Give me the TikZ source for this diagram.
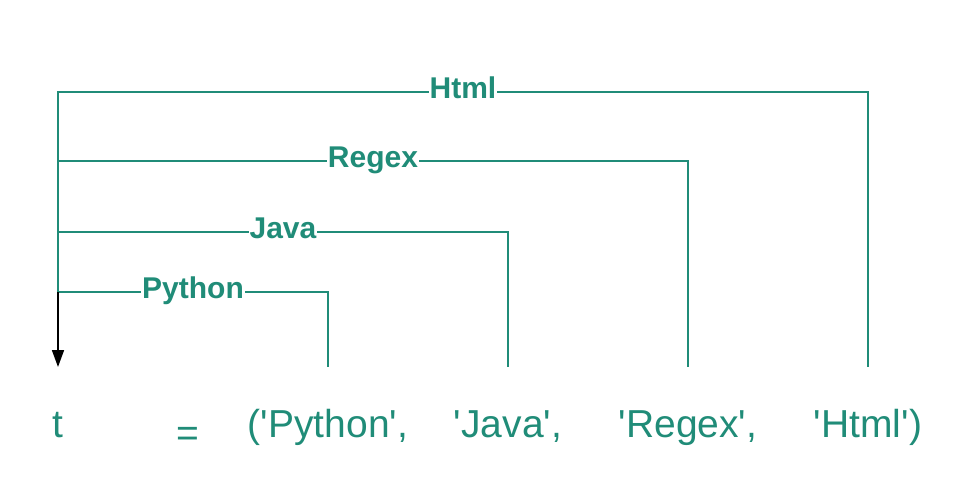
\documentclass[tikz,border=0pt]{standalone}
\usepackage{fontspec}
\setmainfont{Liberation Sans}
\usetikzlibrary{arrows.meta}
\definecolor{gfg}{RGB}{32,140,120}
\newcommand{\q}{\textquotesingle}
\tikzset{
  link/.style={draw=gfg, line width=1.7pt},
  lbl/.style={fill=white, text=gfg, font=\fontsize{30}{31}\selectfont\bfseries, inner xsep=1pt, inner ysep=2pt, anchor=base},
  code/.style={text=gfg, font=\fontsize{39}{41}\selectfont, inner sep=0pt, anchor=base},
  ptr/.style={draw=black, line width=1.7pt, -{Triangle[length=17pt,width=12pt]}}
}
\begin{document}
\begin{tikzpicture}[x=1pt,y=-1pt]
\useasboundingbox (0,0) rectangle (980,498);
% corner coordinates
\coordinate (vtop) at (58,92);
\coordinate (vbot) at (58,292);
\coordinate (tip) at (58,367);
\coordinate (hR) at (868,92);
\coordinate (hE) at (868,367);
\coordinate (rL) at (58,161);
\coordinate (rR) at (688,161);
\coordinate (rE) at (688,367);
\coordinate (jL) at (58,232);
\coordinate (jR) at (508,232);
\coordinate (jE) at (508,367);
\coordinate (pR) at (328,292);
\coordinate (pE) at (328,367);
% connectors
\draw[link] (vbot) -- (vtop) -- (hR) -- (hE);
\draw[link] (rL) -- (rR) -- (rE);
\draw[link] (jL) -- (jR) -- (jE);
\draw[link] (vbot) -- (pR) -- (pE);
\draw[ptr] (vbot) -- (tip);
% labels
\node[lbl] (lhtml) at (463,98) {Html};
\node[lbl] (lregex) at (373,167) {Regex};
\node[lbl] (ljava) at (283,238) {Java};
\node[lbl] (lpython) at (193,298) {Python};
% code line
\node[code] (t) at (58,437) {t};
\node[code, anchor=center] (eq) at (188,437) {=};
\node[code] (e1) at (328,437) {(\q Python\q,};
\node[code] (e2) at (508,437) {\q Java\q,};
\node[code] (e3) at (688,437) {\q Regex\q,};
\node[code] (e4) at (868,437) {\q Html\q)};
\end{tikzpicture}
\end{document}
